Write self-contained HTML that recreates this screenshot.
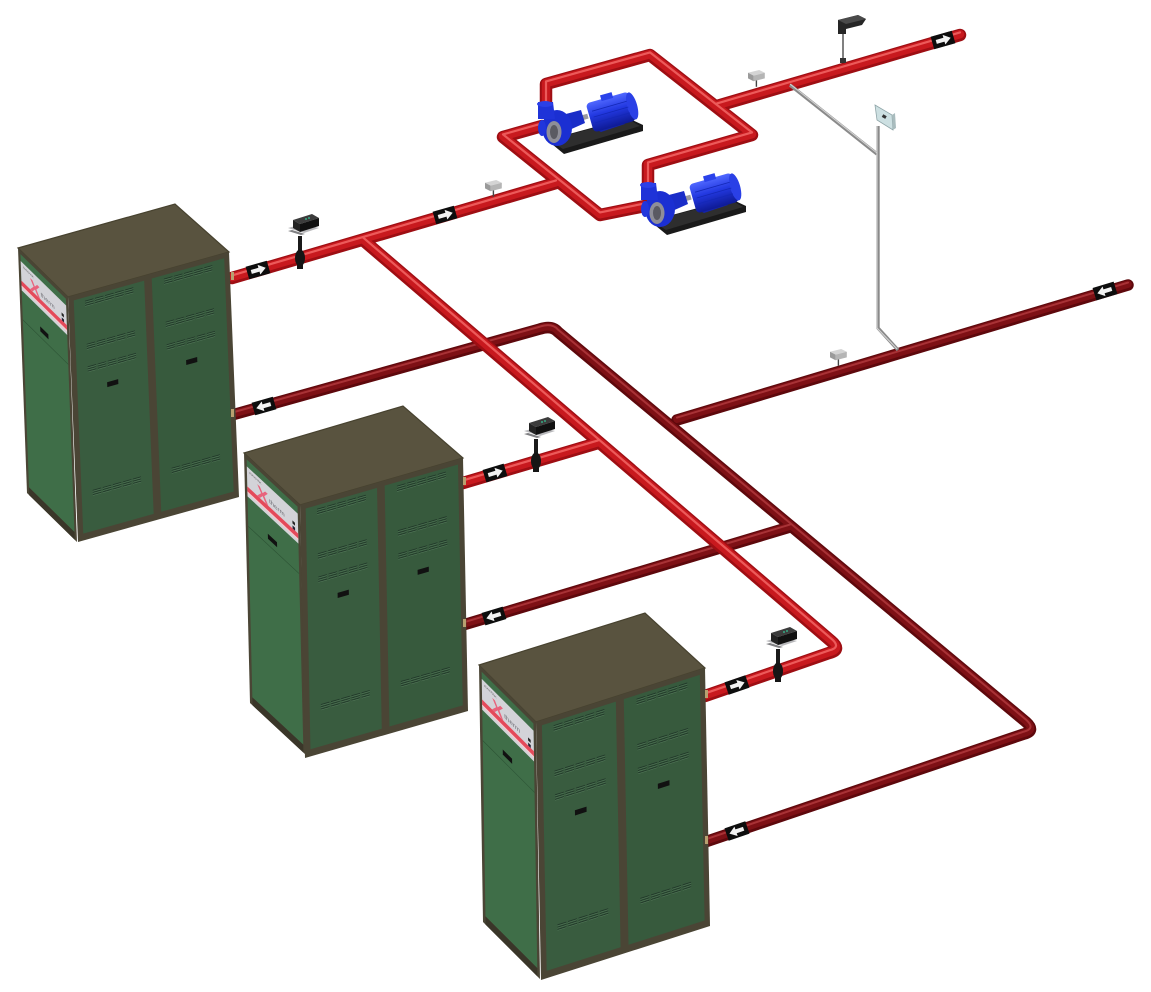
<!DOCTYPE html>
<html><head><meta charset="utf-8"><style>
html,body{margin:0;padding:0;background:#fff;}
svg{display:block;}
</style></head><body>
<svg width="1151" height="992" viewBox="0 0 1151 992" xmlns="http://www.w3.org/2000/svg" xmlns:xlink="http://www.w3.org/1999/xlink" font-family="Liberation Sans, sans-serif">
<defs>
  <linearGradient id="motorG" x1="0" y1="0" x2="0" y2="1">
    <stop offset="0" stop-color="#5068ff"/><stop offset="0.45" stop-color="#2238e0"/><stop offset="1" stop-color="#0e1a95"/>
  </linearGradient>
  <g id="vrow">
    <g stroke="#22392a" stroke-width="0.9" stroke-dasharray="8.4 1.6">
      <line x1="-24" y1="0" x2="24" y2="0"/><line x1="-24" y1="2.2" x2="24" y2="2.2"/><line x1="-24" y1="4.4" x2="24" y2="4.4"/>
    </g>
    <g stroke="#557a5b" stroke-width="0.5" stroke-dasharray="8.4 1.6">
      <line x1="-24" y1="0.9" x2="24" y2="0.9"/><line x1="-24" y1="3.1" x2="24" y2="3.1"/><line x1="-24" y1="5.3" x2="24" y2="5.3"/>
    </g>
  </g>
  <g id="front">
    <rect width="160" height="250" fill="#4a4535"/>
    <rect x="5.5" y="5" width="70" height="238" fill="#395c3f"/>
    <rect x="83" y="5" width="72" height="238" fill="#375a3d"/>
    <use xlink:href="#vrow" href="#vrow" x="40.5" y="9"/>
    <use xlink:href="#vrow" href="#vrow" x="40.5" y="53"/>
    <use xlink:href="#vrow" href="#vrow" x="40.5" y="76"/>
    <use xlink:href="#vrow" href="#vrow" x="40.5" y="202"/>
    <use xlink:href="#vrow" href="#vrow" x="119" y="9"/>
    <use xlink:href="#vrow" href="#vrow" x="119" y="53"/>
    <use xlink:href="#vrow" href="#vrow" x="119" y="76"/>
    <use xlink:href="#vrow" href="#vrow" x="119" y="202"/>
    <rect x="35" y="97" width="11" height="5" fill="#111"/>
    <rect x="113.5" y="97" width="11" height="5" fill="#111"/>
  </g>
  <g id="side">
    <rect width="55" height="250" fill="#4a4535"/>
    <rect x="2.5" y="4" width="50" height="238" fill="#3f6e48"/>
    <rect x="2.5" y="11" width="50" height="30" fill="#d3d3d8"/>
    <rect x="2.5" y="31" width="50" height="5" fill="#e44a5a"/>
    <rect x="2.5" y="36" width="50" height="1.5" fill="#f7c9cc"/>
    <text x="12" y="31" font-size="17" fill="#e8637c" font-weight="bold">X</text>
    <text x="24" y="27" font-size="6" fill="#6a6a70">therm</text>
    <text x="5" y="16" font-size="3" fill="#555">RAYPAK</text>
    <rect x="47" y="23" width="2.5" height="3" fill="#222"/>
    <rect x="47" y="28" width="2.5" height="3" fill="#223"/>
    <line x1="2.5" y1="71" x2="52.5" y2="71" stroke="#2c5234" stroke-width="0.8"/>
    <rect x="22" y="60" width="9" height="5" fill="#111"/>
    <rect x="2.5" y="242" width="50" height="8" fill="#3a3629"/>
  </g>
  <g id="arr">
    <rect x="-11" y="-6.5" width="22" height="13" fill="#0d0d0d"/>
    <polygon points="-7,-2 1,-2 1,-5 8,0 1,5 1,2 -7,2" fill="#f2f2f2"/>
  </g>
  <g id="valve">
    <rect x="-2" y="-22" width="4" height="16" fill="#1a1a1a"/>
    <ellipse cx="0" cy="0" rx="5" ry="8.5" fill="#151515"/>
    <rect x="-3" y="6" width="6" height="5" fill="#151515"/>
    <polygon points="-12,-27 1,-23 5,-24 -8,-28" fill="#7f7f82"/>
    <polygon points="-12,-30 4,-25 19,-30 3,-34" fill="#b8b8bb"/>
    <polygon points="-7,-38 12,-44 19,-40 0,-34" fill="#3c3c3c"/>
    <polygon points="-7,-38 0,-34 0,-26 -7,-30" fill="#232323"/>
    <polygon points="0,-34 19,-40 19,-32 0,-26" fill="#111"/>
    <circle cx="6" cy="-39" r="0.9" fill="#3c9"/>
    <circle cx="9" cy="-40" r="0.9" fill="#3c9"/>
  </g>
  <g id="sens">
    <line x1="1" y1="1" x2="1" y2="7" stroke="#444" stroke-width="1"/>
    <polygon points="-5,-3 3,-5 7,-3 -1,-1" fill="#d4d4d4"/>
    <polygon points="-5,-3 -1,-1 -1,3 -5,1" fill="#9a9a9a"/>
    <polygon points="-1,-1 7,-3 7,1 -1,3" fill="#b5b5b5"/>
  </g>
  <g id="pump">
    <polygon points="650,221 667,235 746,212 746,206 731,199" fill="#1a1a1a"/>
    <polygon points="652,221 666,230 743,207 731,200" fill="#2e2e2e"/>
    <polygon points="696,209 704,213 728,205 720,200" fill="#1424a8"/>
    <g transform="translate(714,193) rotate(-16)">
      <rect x="-22" y="-15" width="44" height="30" rx="4" fill="url(#motorG)"/>
      <ellipse cx="22" cy="0" rx="5" ry="14" fill="#2a40e6"/>
      <rect x="-6" y="-19" width="12" height="6" fill="#2a42ea"/>
      <g stroke="#1428b8" stroke-width="0.8">
        <line x1="-18" y1="-6" x2="18" y2="-6"/><line x1="-18" y1="0" x2="18" y2="0"/><line x1="-18" y1="6" x2="18" y2="6"/>
      </g>
    </g>
    <rect x="682" y="196" width="9" height="5" fill="#9a9aa0" transform="rotate(-16 686 198)"/>
    <polygon points="665,196 684,191 688,204 670,212" fill="#1a2dc8"/>
    <ellipse cx="660" cy="209" rx="15" ry="18" fill="#1b2fd2"/>
    <polygon points="641,183 656,183 658,200 641,200" fill="#1f33d8"/>
    <ellipse cx="648" cy="185" rx="8" ry="3" fill="#2b40e8"/>
    <ellipse cx="657" cy="213" rx="7.5" ry="11" fill="#8e8e98"/>
    <ellipse cx="657" cy="213" rx="4" ry="7" fill="#5a5a62"/>
    <ellipse cx="645" cy="209" rx="4" ry="8" fill="#2136dc"/>
  </g>
  <path id="r1" d="M232,415 L540,329 Q552,325 558,332 L1026,722 Q1036,731 1024,734 L705,842"/>
  <path id="r2" d="M677,420 L1128,285"/>
  <path id="r3" d="M463,625 L790,527"/>
  <path id="s1" d="M232,278 L556,183"/>
  <path id="s2" d="M363,240 L831,641 Q842,650 829,653 L705,696"/>
  <path id="s3" d="M463,483 L598,443"/>
  <path id="s4" d="M717,106 L960,35"/>
  <path id="lp1" d="M542,126 L503,137 L600,215 L645,206"/>
  <path id="lp2" d="M546,106 L546,84 L650,55 L752,135 L648,165 L648,186"/>
</defs>

<rect width="1151" height="992" fill="#fff"/>

<!-- return pipes -->
<g fill="none" stroke-linejoin="round" stroke-linecap="round">
  <g stroke="#5e080c" stroke-width="11.5">
    <use href="#r1"/><use href="#r2"/><use href="#r3"/>
  </g>
  <g stroke="#7e1015" stroke-width="7.5" transform="translate(0,-0.8)">
    <use href="#r1"/><use href="#r2"/><use href="#r3"/>
  </g>
  <g stroke="#a83236" stroke-width="2" transform="translate(0,-2.4)">
    <use href="#r1"/><use href="#r2"/><use href="#r3"/>
  </g>
</g>

<!-- supply pipes -->
<g fill="none" stroke-linejoin="round" stroke-linecap="round">
  <g stroke="#9e0e13" stroke-width="12.5">
    <use href="#s1"/><use href="#s2"/><use href="#s3"/><use href="#s4"/><use href="#lp1"/><use href="#lp2"/>
  </g>
  <g stroke="#c8191e" stroke-width="8.5" transform="translate(0,-0.8)">
    <use href="#s1"/><use href="#s2"/><use href="#s3"/><use href="#s4"/><use href="#lp1"/><use href="#lp2"/>
  </g>
  <g stroke="#ec5a5a" stroke-width="2.2" transform="translate(0,-2.6)">
    <use href="#s1"/><use href="#s2"/><use href="#s3"/><use href="#s4"/><use href="#lp1"/><use href="#lp2"/>
  </g>
</g>

<!-- pumps -->
<use href="#pump"/>
<use href="#pump" transform="translate(-103,-81)"/>

<!-- control tubing -->
<g fill="none" stroke-linejoin="round">
  <polyline points="790,85 877,154" stroke="#8a8a8a" stroke-width="3.4"/>
  <polyline points="878,126 878,328 898,350" stroke="#8a8a8a" stroke-width="3.4"/>
  <polyline points="790,84 877,153" stroke="#d2d2d2" stroke-width="1.1"/>
  <polyline points="877,126 877,328 897,349" stroke="#d2d2d2" stroke-width="1.1"/>
</g>
<polygon points="875,105 892,115 893,130 877,120" fill="#cde0e2" stroke="#8fa5a8" stroke-width="0.8"/>
<polygon points="892,115 895,113 896,128 893,130" fill="#a9bcbe"/>
<rect x="882" y="115" width="4" height="3" fill="#333" transform="rotate(30 884 117)"/>

<!-- sensors -->
<use href="#sens" transform="translate(492,187) scale(1.4)"/>
<use href="#sens" transform="translate(755,77) scale(1.4)"/>
<use href="#sens" transform="translate(837,356) scale(1.4)"/>
<line x1="843" y1="30" x2="843" y2="63" stroke="#555" stroke-width="1.5"/>
<rect x="840" y="58" width="6" height="5" fill="#333"/>
<polygon points="838,20 858,15 866,19 862,25 846,29 846,34 838,34" fill="#262626"/>
<polygon points="838,20 858,15 866,19 846,24" fill="#4a4a4a"/>

<!-- valves -->
<use href="#valve" transform="translate(300,258)"/>
<use href="#valve" transform="translate(536,461)"/>
<use href="#valve" transform="translate(778,671)"/>

<!-- arrow labels -->
<use href="#arr" transform="translate(258,270) rotate(-16)"/>
<use href="#arr" transform="translate(445,215) rotate(-16)"/>
<use href="#arr" transform="translate(943,40) rotate(-16)"/>
<use href="#arr" transform="translate(1105,291) rotate(-17) scale(-1,1)"/>
<use href="#arr" transform="translate(264,406) rotate(-16) scale(-1,1)"/>
<use href="#arr" transform="translate(495,473) rotate(-17)"/>
<use href="#arr" transform="translate(494,616) rotate(-17) scale(-1,1)"/>
<use href="#arr" transform="translate(737,685) rotate(-19)"/>
<use href="#arr" transform="translate(737,831) rotate(-19) scale(-1,1)"/>

<!-- boiler 1 -->
<g>
  <polygon points="18,248 175,204 229,252 68,297" fill="#59533f" stroke="#47422f" stroke-width="1.2"/>
  <use href="#side" transform="matrix(0.909,0.891,0.036,0.98,18,248)"/>
  <use href="#front" transform="matrix(1.00625,-0.28125,0.04,0.98,68,297)"/>
</g>
<!-- boiler 2 -->
<g>
  <polygon points="244,453 403,406 463,458 300,505" fill="#59533f" stroke="#47422f" stroke-width="1.2"/>
  <use href="#side" transform="matrix(1.018,0.945,0.024,1.0,244,453)"/>
  <use href="#front" transform="matrix(1.01875,-0.29375,0.02,1.012,300,505)"/>
</g>
<!-- boiler 3 -->
<g>
  <polygon points="479,665 645,613 705,668 536,722" fill="#59533f" stroke="#47422f" stroke-width="1.2"/>
  <use href="#side" transform="matrix(1.036,1.036,0.016,1.028,479,665)"/>
  <use href="#front" transform="matrix(1.05625,-0.3375,0.02,1.032,536,722)"/>
</g>

<!-- fittings at boiler -->
<g fill="#b8a070">
  <rect x="231" y="272" width="3" height="8"/>
  <rect x="231" y="409" width="3" height="8"/>
  <rect x="463" y="477" width="3" height="8"/>
  <rect x="463" y="619" width="3" height="8"/>
  <rect x="705" y="690" width="3" height="8"/>
  <rect x="705" y="836" width="3" height="8"/>
</g>
</svg>
</body></html>
